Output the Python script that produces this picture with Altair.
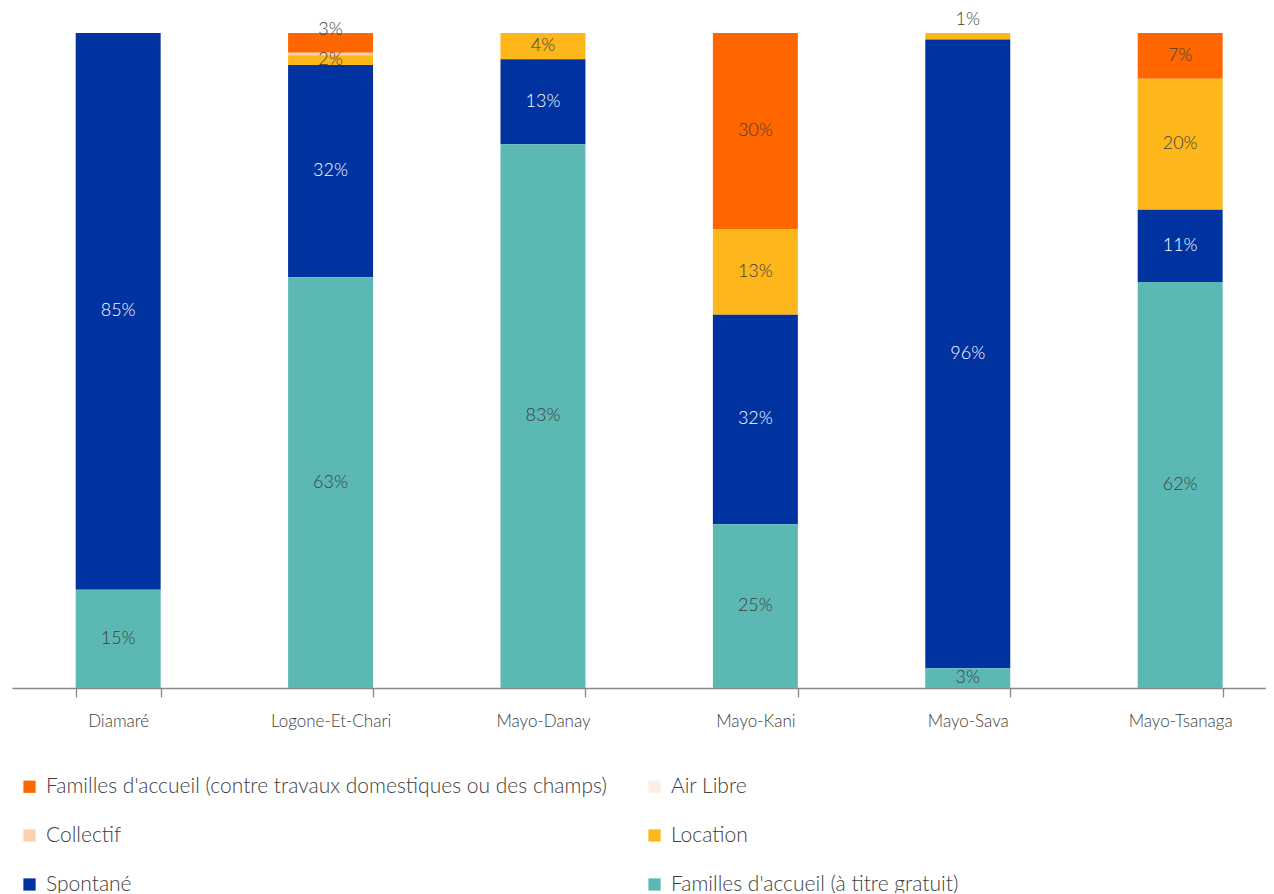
import altair as alt
import pandas as pd

districts = ["Diamaré", "Logone-Et-Chari", "Mayo-Danay", "Mayo-Kani", "Mayo-Sava", "Mayo-Tsanaga"]
categories = [
    "Familles d'accueil (contre travaux domestiques ou des champs)",
    "Air Libre",
    "Collectif",
    "Location",
    "Spontané",
    "Familles d'accueil (à titre gratuit)",
]
colors = ["#FF6600", "#FCEEE4", "#FDD1B0", "#FDB71A", "#0033A0", "#5BB8B3"]

# values per category, in district order
familles_travaux = [0, 3.0, 0, 30, 0, 7]
air_libre = [0, 0, 0, 0, 0, 0]
collectif = [0, 0.4, 0, 0, 0, 0]
location = [0, 1.5, 4, 13, 1, 20]
spontane = [85, 32.4, 13, 32, 96, 11]
familles_gratuit = [15, 62.7, 83, 25, 3, 62]

series = [familles_travaux, air_libre, collectif, location, spontane, familles_gratuit]
rows = []
for ci, (cat, vals) in enumerate(zip(categories, series)):
    for d, v in zip(districts, vals):
        rows.append({"district": d, "category": cat, "value": v, "order": 5 - ci})
df = pd.DataFrame(rows)

FONT = "Lato"
TXT = "#404040"

base = alt.Chart(df).transform_stack(
    stack="value", groupby=["district"], as_=["y0", "y1"], sort=[alt.SortField("order", "ascending")]
)

xscale = alt.Scale(paddingInner=0.6, paddingOuter=0.252, align=0.595)

x = alt.X(
    "district:N",
    sort=districts,
    title=None,
    scale=xscale,
    axis=alt.Axis(
        labelAngle=0,
        labelFont=FONT,
        labelFontSize=17,
        labelFontWeight=300,
        labelColor=TXT,
        labelPadding=16,
        tickBand="extent",
        tickSize=9,
        tickColor="#898989",
        domainColor="#898989",
        domainWidth=1.3,
        tickWidth=1.3,
    ),
)

bars = base.transform_filter("datum.value > 0").mark_bar().encode(
    x=x,
    y=alt.Y("y0:Q", scale=alt.Scale(domain=[0, 100], nice=False), axis=None),
    y2="y1:Q",
    color=alt.Color(
        "category:N",
        scale=alt.Scale(domain=categories, range=colors),
        legend=alt.Legend(
            title=None,
            orient="none",
            legendX=7,
            legendY=743,
            columns=2,
            direction="horizontal",
            columnPadding=37,
            rowPadding=27,
            symbolType="square",
            symbolSize=150,
            symbolStrokeWidth=0,
            labelFont=FONT,
            labelFontSize=21,
            labelFontWeight=300,
            labelColor=TXT,
            labelLimit=800,
            labelOffset=6,
        ),
    ),
)

labels = base.transform_filter("datum.value >= 1").transform_calculate(
    ypos="(datum.y1 >= 99.9 && datum.value < 2) ? datum.y1 + 2 : ((datum.y1 >= 99.9 && datum.value < 4) ? datum.y1 + 0.5 : (datum.y0 + datum.y1) / 2)",
    label="format(datum.value, '.0f') + '%'",
).mark_text(font=FONT, fontSize=18, fontWeight=300, baseline="middle").encode(
    x=alt.X("district:N", sort=districts, scale=xscale),
    y=alt.Y("ypos:Q", scale=alt.Scale(domain=[0, 100], nice=False)),
    text="label:N",
    color=alt.condition(alt.datum.category == "Spontané", alt.value("#FFFFFF"), alt.value(TXT)),
)

chart = alt.layer(bars, labels).properties(
    width=1254,
    height=655,
    autosize=alt.AutoSizeParams(type="none"),
    padding={"left": 4, "top": 25, "right": 0, "bottom": 205},
    view=alt.ViewBackground(stroke="transparent", strokeWidth=0),
).configure_view(stroke="transparent", strokeWidth=0).configure(background="white")

chart.save("out.html", embed_options={"renderer": "svg", "actions": False})
